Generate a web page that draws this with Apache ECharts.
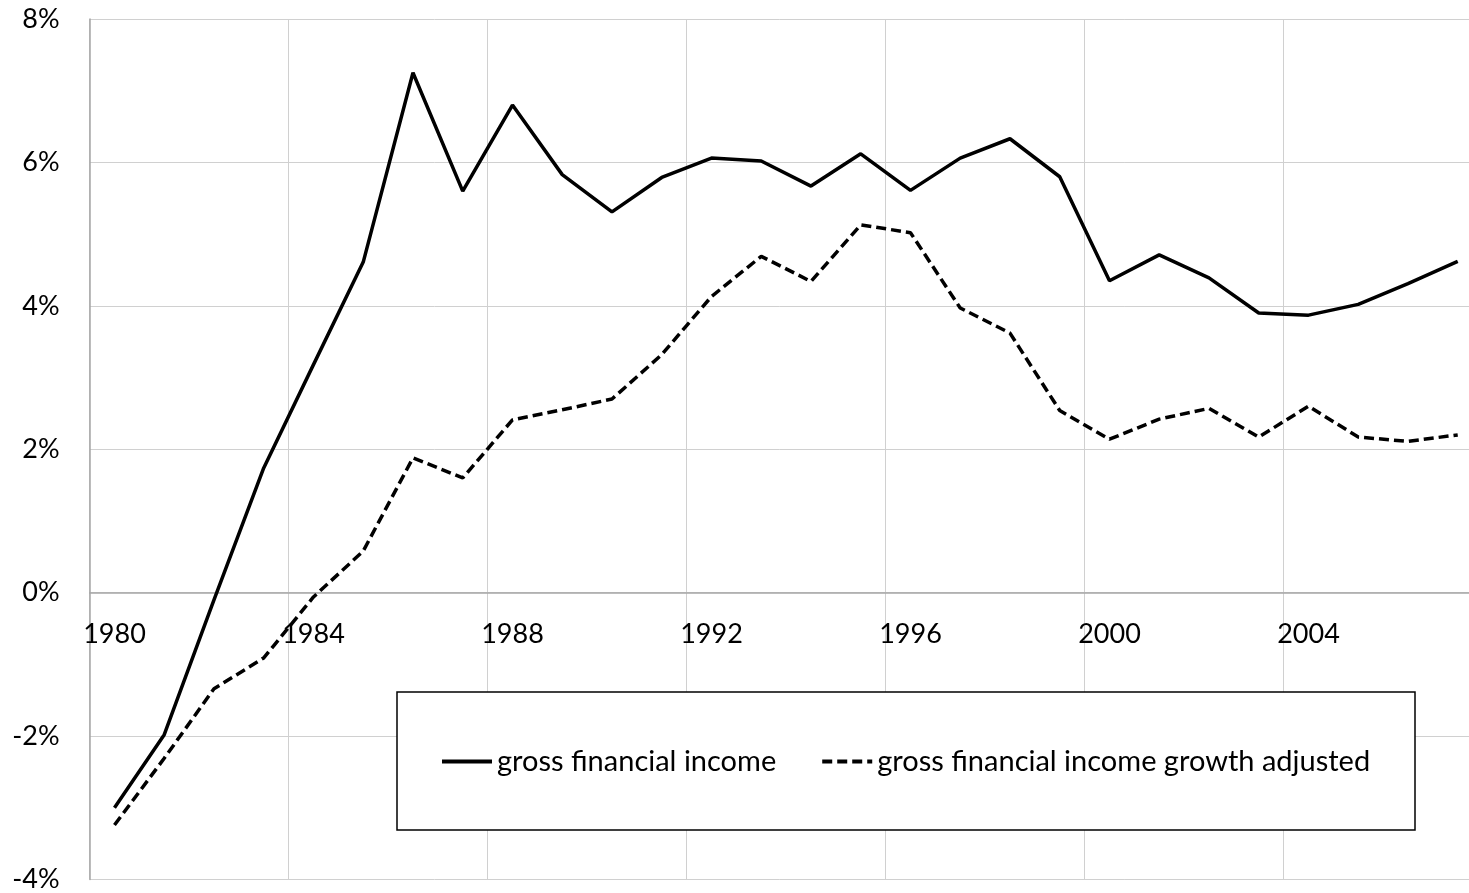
<!DOCTYPE html>
<html>
<head>
<meta charset="utf-8">
<script src="https://cdn.jsdelivr.net/npm/echarts@6/dist/echarts.min.js"></script>
<style>
html,body{margin:0;padding:0;background:#fff;}
#income{width:1469px;height:893px;}
</style>
</head>
<body>
<div id="income"></div>
<script>
// years on the category axis
let years = ["1980","1981","1982","1983","1984","1985","1986","1987","1988","1989",
             "1990","1991","1992","1993","1994","1995","1996","1997","1998","1999",
             "2000","2001","2002","2003","2004","2005","2006","2007"];
// percent values
let grossIncome = [-3.00,-1.98,-0.10,1.74,3.18,4.61,7.25,5.60,6.80,5.83,
                   5.31,5.79,6.06,6.02,5.67,6.12,5.61,6.06,6.33,5.80,
                   4.35,4.71,4.39,3.90,3.87,4.02,4.31,4.62];
let grossAdjusted = [-3.24,-2.31,-1.34,-0.91,-0.06,0.58,1.88,1.60,2.41,2.55,
                     2.70,3.32,4.13,4.69,4.34,5.13,5.02,3.97,3.62,2.54,
                     2.14,2.42,2.57,2.17,2.60,2.17,2.11,2.20];
let yTicks = [-4,-2,0,2,4,6,8];
let seriesNames = ["gross financial income","gross financial income growth adjusted"];

let font = 'Lato, "Open Sans", sans-serif';
let chart = echarts.init(document.getElementById('income'));

// grid spans 89.6..1482.6 horizontally (last column runs past the page edge), 19..879.5 vertically
let gridTop = 19, gridBottom = 13.5;
let plotH = 893 - gridTop - gridBottom;
// x axis sits on the 0% line
let zeroOffset = -plotH * (0 - yTicks[0]) / (yTicks[yTicks.length - 1] - yTicks[0]);

chart.setOption({
    animation: false,
    textStyle: {fontFamily: font, color: '#000'},
    grid: {left: 89.6, right: -13.6, top: gridTop, bottom: gridBottom,
           containLabel: false, outerBoundsMode: 'none'},
    graphic: [{
        type: 'rect',
        z: 3,
        shape: {x: 397, y: 692, width: 1018, height: 138},
        style: {fill: '#fff', stroke: '#000', lineWidth: 1.5}
    }],
    legend: {
        z: 5,
        left: 440,
        top: 747,
        padding: 0,
        itemWidth: 50,
        itemHeight: 14,
        itemGap: 44,
        itemStyle: {opacity: 0},
        lineStyle: {width: 4},
        textStyle: {fontSize: 29, fontFamily: font, color: '#000'},
        data: seriesNames
    },
    xAxis: {
        type: 'category',
        data: years,
        boundaryGap: true,
        offset: zeroOffset,
        axisLine: {onZero: false, lineStyle: {color: '#a6a6a6', width: 1.5}},
        axisTick: {show: false, interval: 3},
        axisLabel: {interval: 3, margin: 28, fontSize: 27, fontFamily: font, color: '#000'},
        splitLine: {show: true, interval: 3, lineStyle: {color: '#d0d0d0', width: 1}}
    },
    yAxis: {
        type: 'value',
        min: yTicks[0],
        max: yTicks[yTicks.length - 1],
        interval: 2,
        axisLine: {show: true, lineStyle: {color: '#a6a6a6', width: 1.5}},
        axisTick: {show: false},
        axisLabel: {margin: 30, fontSize: 27, fontFamily: font, color: '#000',
            formatter: function (v) { return v + '%'; }},
        splitLine: {show: true, lineStyle: {color: '#d0d0d0', width: 1}}
    },
    series: [{
        name: seriesNames[0],
        type: 'line',
        data: grossIncome,
        symbol: 'none',
        itemStyle: {color: '#000'},
        lineStyle: {color: '#000', width: 3.5}
    }, {
        name: seriesNames[1],
        type: 'line',
        data: grossAdjusted,
        symbol: 'none',
        itemStyle: {color: '#000'},
        lineStyle: {color: '#000', width: 3.5, type: [10, 5]}
    }]
});
</script>
</body>
</html>
